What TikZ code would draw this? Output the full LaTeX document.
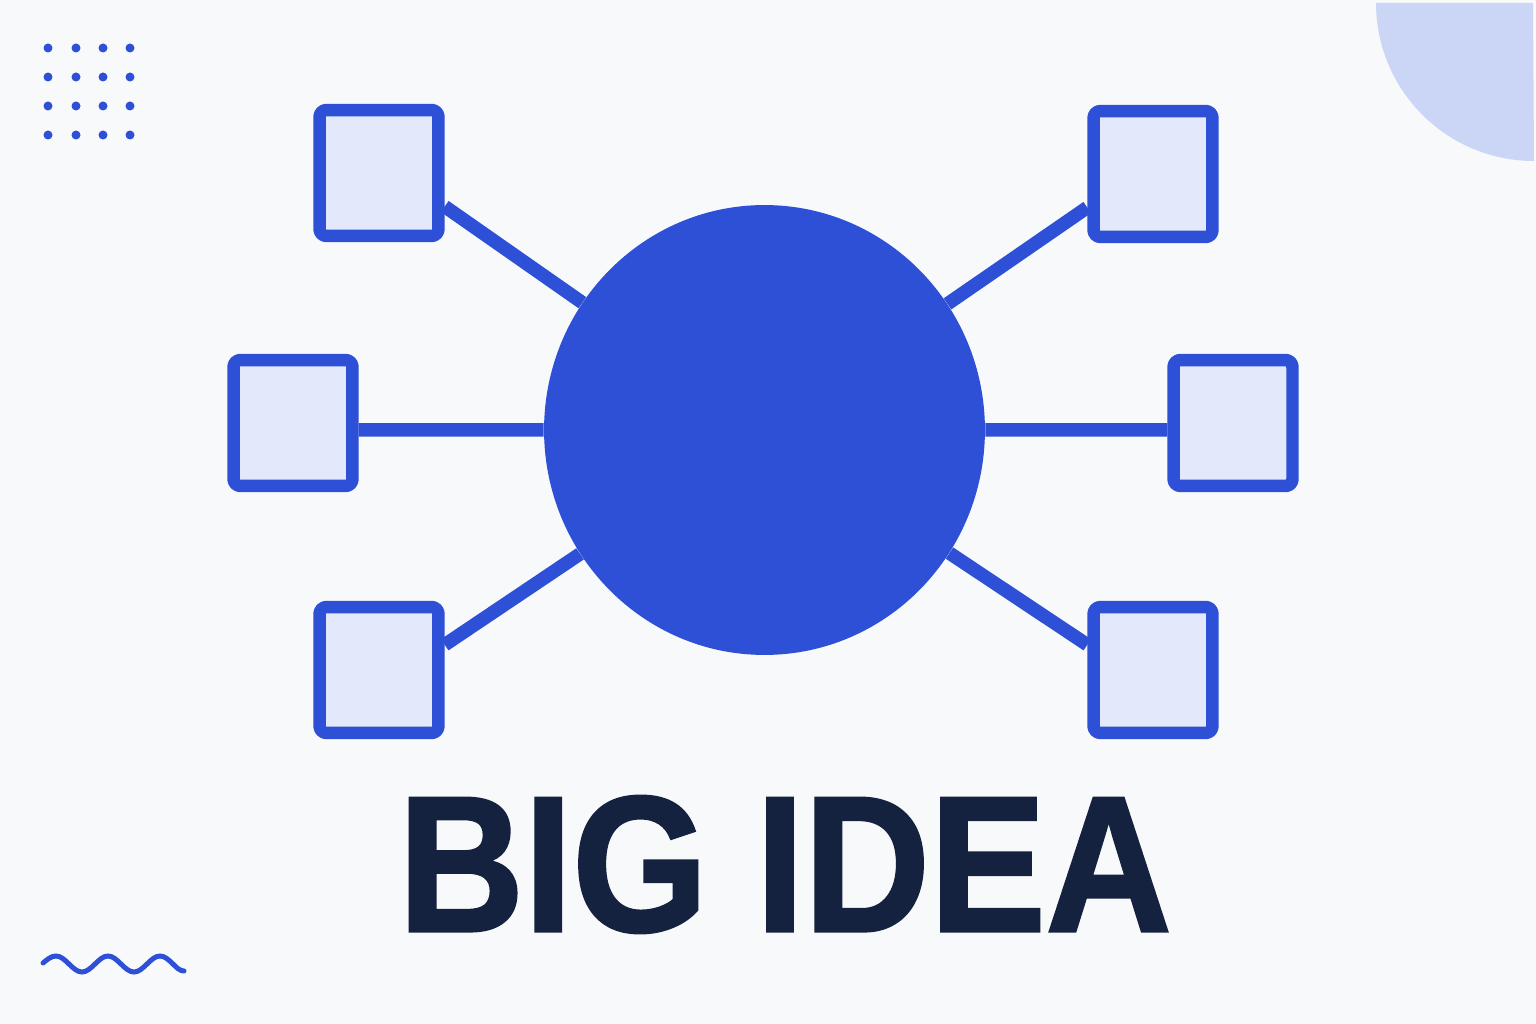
\documentclass[tikz,border=0pt]{standalone}
\usepackage{fontspec}
\setmainfont{Liberation Sans}
\newfontfamily\titlefont[FakeBold=1.6]{Liberation Sans Bold}
\usetikzlibrary{shapes.geometric}
\definecolor{ideablue}{HTML}{2D50D6}
\definecolor{boxfill}{HTML}{E3E8FA}
\definecolor{pale}{HTML}{CBD6F7}
\definecolor{paper}{HTML}{F8F9FA}
\definecolor{ink}{HTML}{14223F}
\tikzset{
  hub/.style = {ellipse,fill=ideablue,minimum width=8.82cm,minimum height=9cm,inner sep=0pt},
  leaf/.style = {draw=ideablue,fill=boxfill,line width=0.25cm,rounded corners=0.14cm,
    line join=round,minimum width=2.38cm,minimum height=2.52cm,inner sep=0pt},
  link/.style = {draw=ideablue,line width=0.27cm}
}
\begin{document}
\begin{tikzpicture}[x=0.02cm,y=-0.02cm]
  \fill[paper] (0,0) rectangle (1536,1024);
  \useasboundingbox (0,0) rectangle (1536,1024);
  % corner decorations
  \fill[pale] (1533,3) -- (1376,3) arc[start angle=180,end angle=90,radius=158] -- cycle;
  \foreach \x in {48,76,103,130}
    \foreach \y in {48,77,106,135}
      \fill[ideablue] (\x,\y) circle (4.5);
  \draw[ideablue,line width=0.1cm,line cap=round]
    (43,963) sin (56,956) cos (69,964) sin (82,972) cos (95,964) sin (108,956)
    cos (121,964) sin (134,972) cos (147,964) sin (160,956) cos (173,964) sin (184,971);
  % the idea and its branches
  \node[hub] (idea) at (764.5,430) {};
  \node[leaf] (nw) at (379,173) {};
  \node[leaf] (w)  at (293,423) {};
  \node[leaf] (sw) at (379,670) {};
  \node[leaf] (ne) at (1153,174) {};
  \node[leaf] (e)  at (1233,423) {};
  \node[leaf] (se) at (1153,670) {};
  \foreach \b/\a in {nw/-27,w/-6,sw/21,ne/207,e/186,se/159}
    \draw[link] (idea) -- (\b.\a);
  \node[text=ink,font=\titlefont\fontsize{110}{110}\selectfont,inner sep=0pt,xscale=0.9]
    (title) at (785,864.5) {BIG IDEA};
\end{tikzpicture}
\end{document}
